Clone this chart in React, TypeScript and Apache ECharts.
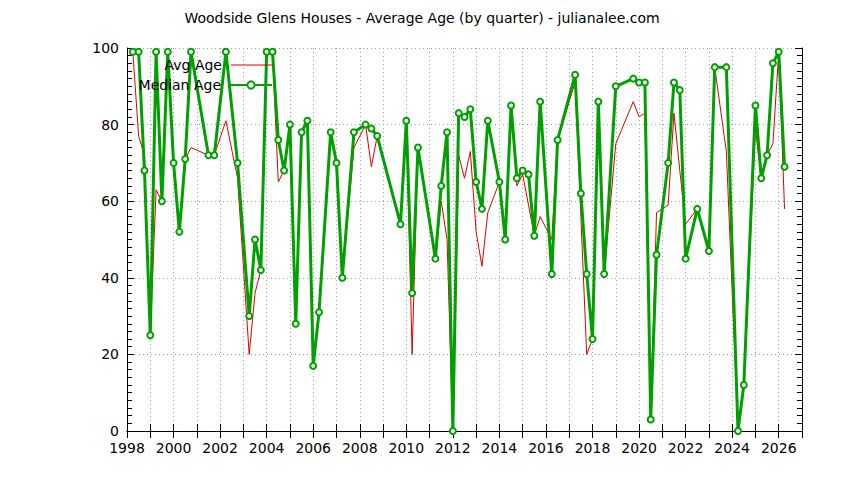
import React, { useEffect, useRef } from "react";
import * as echarts from "echarts";

const TITLE = "Woodside Glens Houses - Average Age (by quarter) - julianalee.com";

// quarter positions in decimal years
const quarters: number[] = [
  1998.25, 1998.5, 1998.75, 1999.0, 1999.25, 1999.5, 1999.75, 2000.0, 2000.25, 2000.5,
  2000.75, 2001.5, 2001.75, 2002.25, 2002.75, 2003.25, 2003.5, 2003.75, 2004.0, 2004.25,
  2004.5, 2004.75, 2005.0, 2005.25, 2005.5, 2005.75, 2006.0, 2006.25, 2006.75, 2007.0,
  2007.25, 2007.75, 2008.25, 2008.5, 2008.75, 2009.75, 2010.0, 2010.25, 2010.5, 2011.25,
  2011.5, 2011.75, 2012.0, 2012.25, 2012.5, 2012.75, 2013.0, 2013.25, 2013.5, 2014.0,
  2014.25, 2014.5, 2014.75, 2015.0, 2015.25, 2015.5, 2015.75, 2016.25, 2016.5, 2017.25,
  2017.5, 2017.75, 2018.0, 2018.25, 2018.5, 2019.0, 2019.75, 2020.0, 2020.25, 2020.5,
  2020.75, 2021.25, 2021.5, 2021.75, 2022.0, 2022.5, 2023.0, 2023.25, 2023.75, 2024.25,
  2024.5, 2025.0, 2025.25, 2025.5, 2025.75, 2026.0, 2026.25,
];

const avgAge: number[] = [
  99, 77, 72, 25, 63, 60, 99, 70, 52, 71,
  74, 72, 72, 81, 66, 20, 36, 42, 99, 99,
  65, 68, 80, 28, 78, 81, 17, 31, 78, 70,
  40, 74, 80, 69, 77, 54, 81, 20, 74, 45,
  60, 50, 0, 72, 66, 73, 52, 43, 57, 65,
  50, 85, 64, 67, 59, 51, 56, 50, 76, 91,
  56, 20, 24, 86, 41, 75, 86, 82, 83, 3,
  57, 59, 83, 68, 54, 58, 47, 95, 73, 0,
  12, 79, 66, 72, 75, 99, 58,
];

const medianAge: number[] = [
  99, 99, 68, 25, 99, 60, 99, 70, 52, 71,
  99, 72, 72, 99, 70, 30, 50, 42, 99, 99,
  76, 68, 80, 28, 78, 81, 17, 31, 78, 70,
  40, 78, 80, 79, 77, 54, 81, 36, 74, 45,
  64, 78, 0, 83, 82, 84, 65, 58, 81, 65,
  50, 85, 66, 68, 67, 51, 86, 41, 76, 93,
  62, 41, 24, 86, 41, 90, 92, 91, 91, 3,
  46, 70, 91, 89, 45, 58, 47, 95, 95, 0,
  12, 85, 66, 72, 96, 99, 69,
];

const X_MIN = 1998;
const X_MAX = 2027;
const Y_MIN = 0;
const Y_MAX = 100;

const FONT = "DejaVu Sans";

export default function App() {
  const ref = useRef<HTMLDivElement>(null);

  useEffect(() => {
    document.body.style.margin = "0";
    if (!ref.current) return;
    const chart = echarts.init(ref.current, undefined, { renderer: "svg" });

    const axisLine = { show: true, lineStyle: { color: "#000", width: 1 } };
    const gridLine = { show: true, lineStyle: { color: "#a0a0a0", type: [1, 3] as any, width: 1 } };

    const option: any = {
      animation: false,
      backgroundColor: "#fff",
      textStyle: { fontFamily: FONT },
      title: {
        text: TITLE,
        left: "center",
        top: 11,
        padding: 0,
        textStyle: { fontFamily: FONT, fontSize: 14, fontWeight: "normal", color: "#000" },
      },
      grid: { left: 127, right: 42, top: 48, bottom: 49, containLabel: false },
      legend: [
        {
          data: [{ name: "Avg Age", icon: "rect" }],
          align: "right",
          right: 844 - 273,
          top: 58,
          padding: 0,
          itemWidth: 42,
          itemHeight: 1,
          selectedMode: false,
          itemStyle: { color: "#dd0000" },
          textStyle: { fontFamily: FONT, fontSize: 14, color: "#000", padding: [0, 4, 0, 0] },
        },
        {
          data: ["Median Age"],
          align: "right",
          right: 844 - 273,
          top: 78,
          padding: 0,
          itemWidth: 42,
          itemHeight: 9,
          selectedMode: false,
          textStyle: { fontFamily: FONT, fontSize: 14, color: "#000", padding: [0, 4, 0, 0] },
        },
      ],
      xAxis: [
        {
          type: "value",
          position: "bottom",
          min: X_MIN,
          max: X_MAX,
          interval: 1,
          axisLine,
          axisTick: { show: true, inside: true, length: 7, lineStyle: { color: "#000" } },
          axisLabel: {
            color: "#000",
            fontFamily: FONT,
            fontSize: 14,
            margin: 10,
            formatter: (v: number) => (v % 2 === 0 && v < X_MAX ? String(v) : ""),
          },
          splitLine: gridLine,
        },
        {
          type: "value",
          position: "top",
          min: X_MIN,
          max: X_MAX,
          interval: 1,
          axisLine,
          axisTick: { show: true, inside: true, length: 7, lineStyle: { color: "#000" } },
          axisLabel: { show: false },
          splitLine: { show: false },
        },
      ],
      yAxis: [
        {
          type: "value",
          position: "left",
          min: Y_MIN,
          max: Y_MAX,
          interval: 20,
          axisLine,
          axisTick: { show: true, inside: true, length: 7, lineStyle: { color: "#000" } },
          minorTick: { show: true, splitNumber: 10, length: 5, lineStyle: { color: "#000" } },
          axisLabel: { color: "#000", fontFamily: FONT, fontSize: 14, margin: 8 },
          splitLine: gridLine,
        },
        {
          type: "value",
          position: "right",
          min: Y_MIN,
          max: Y_MAX,
          interval: 20,
          axisLine,
          axisTick: { show: true, inside: true, length: 7, lineStyle: { color: "#000" } },
          minorTick: { show: true, splitNumber: 10, length: 5, lineStyle: { color: "#000" } },
          axisLabel: { show: false },
          splitLine: { show: false },
        },
      ],
      series: [
        {
          name: "Avg Age",
          type: "line",
          xAxisIndex: 0,
          yAxisIndex: 0,
          data: quarters.map((q, i) => [q, avgAge[i]]),
          symbol: "none",
          lineStyle: { color: "#dd0000", width: 1 },
          itemStyle: { color: "#dd0000" },
        },
        {
          name: "Median Age",
          type: "line",
          xAxisIndex: 0,
          yAxisIndex: 0,
          data: quarters.map((q, i) => [q, medianAge[i]]),
          symbol: "emptyCircle",
          symbolSize: 6,
          showAllSymbol: true,
          lineStyle: { color: "#00a000", width: 3 },
          itemStyle: { color: "#00a000", borderWidth: 2 },
        },
      ],
    };

    chart.setOption(option);
    return () => chart.dispose();
  }, []);

  return <div ref={ref} style={{ width: 844, height: 480 }} />;
}
